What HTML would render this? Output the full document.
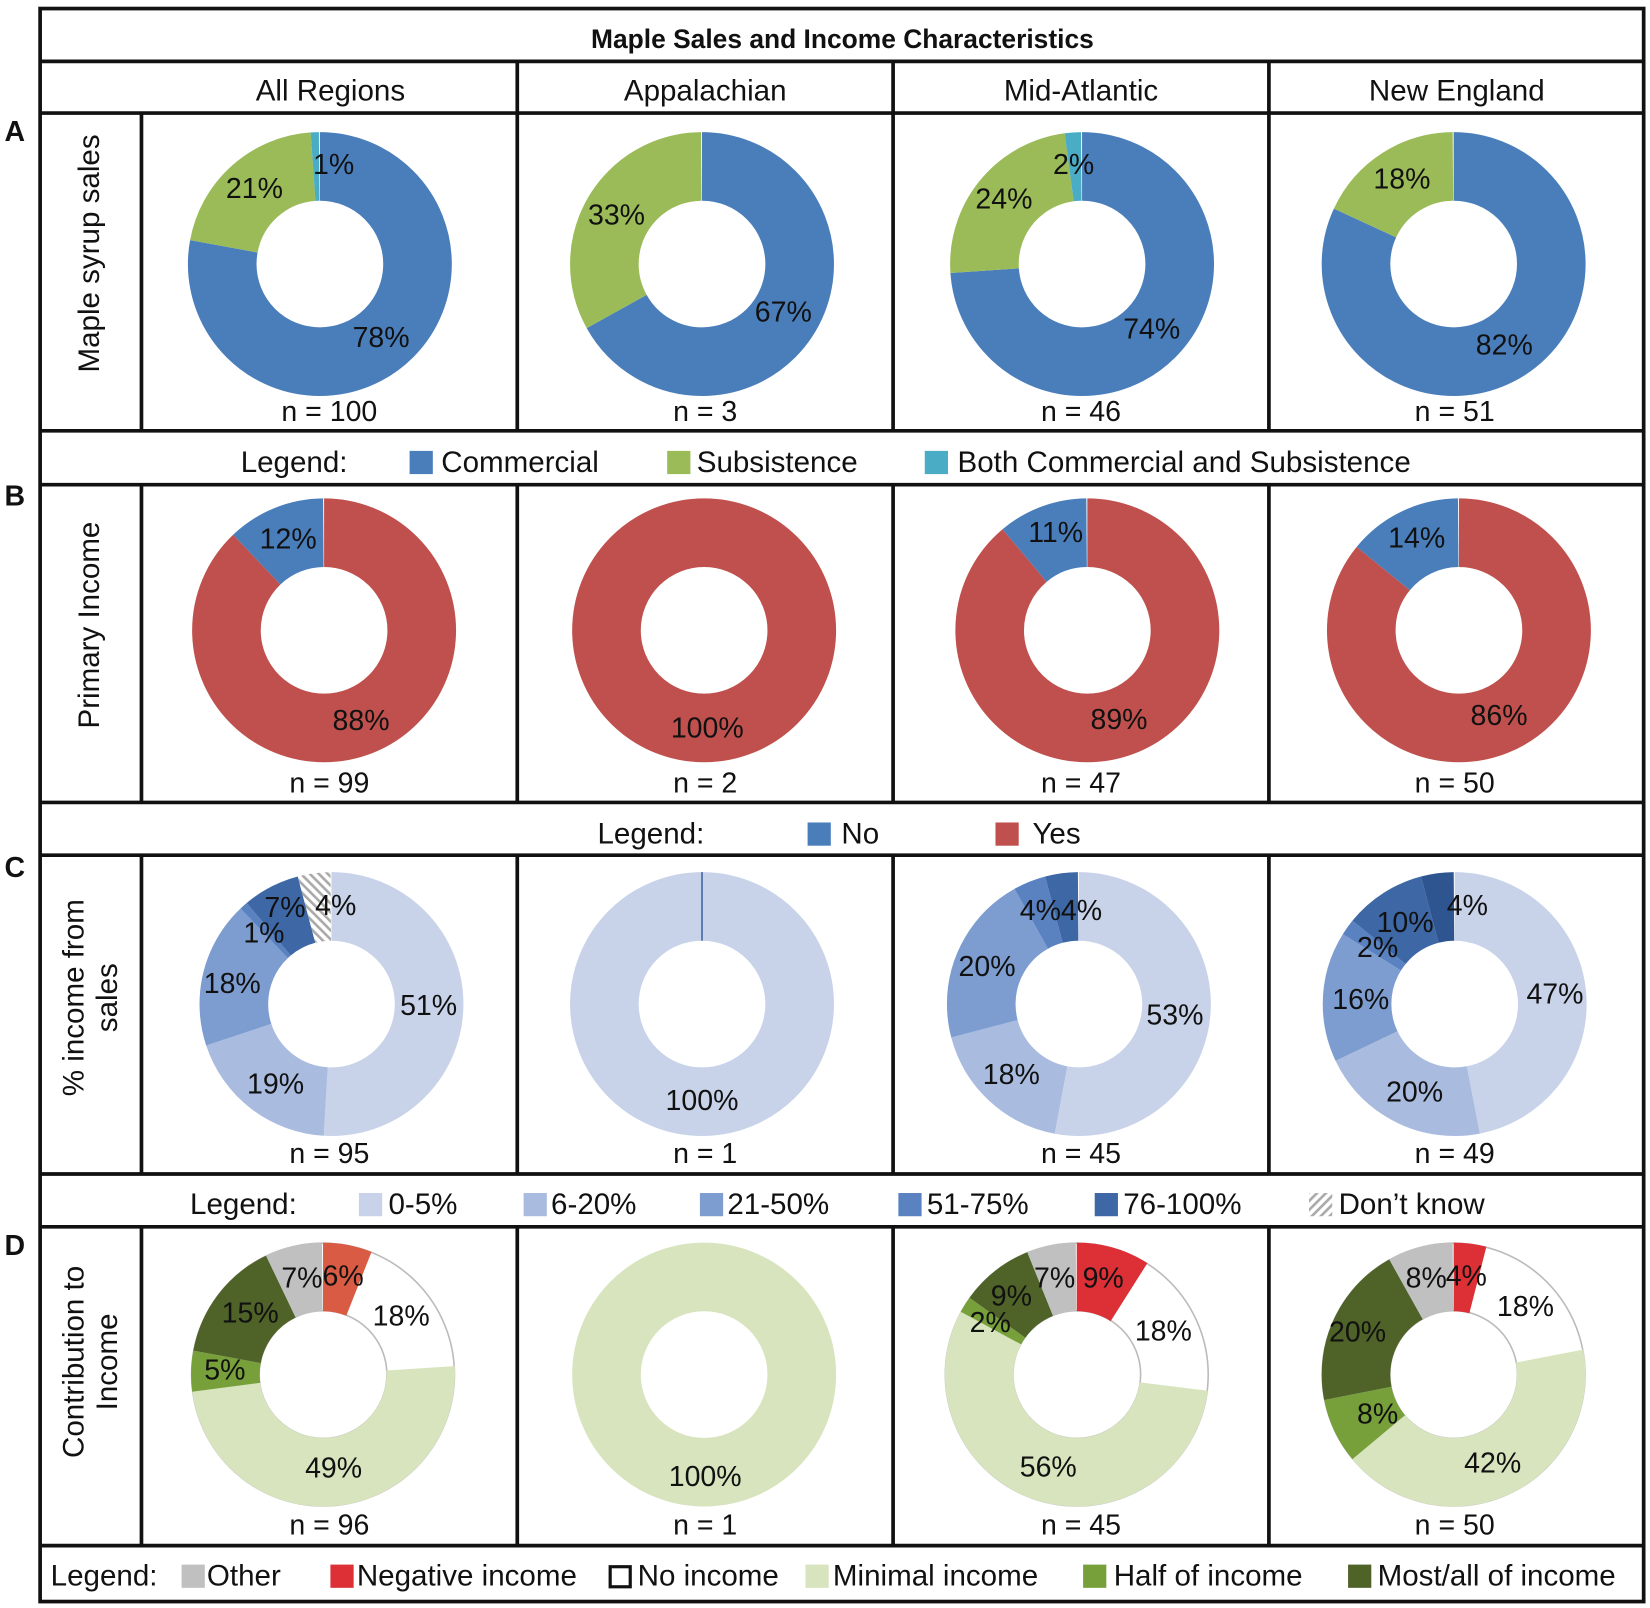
<!DOCTYPE html>
<html><head><meta charset="utf-8"><style>
html,body{margin:0;padding:0;background:#fff;}
svg{display:block;}
text{font-family:"Liberation Sans",Arial,sans-serif;fill:#111;}
.p{font-size:27px;text-anchor:middle;dominant-baseline:central;}
.h{font-size:28px;text-anchor:middle;dominant-baseline:central;}
.l{font-size:28px;dominant-baseline:central;}
</style></head><body>
<svg width="1650" height="1608" viewBox="0 0 1563 1523" xmlns="http://www.w3.org/2000/svg">
<defs>
<pattern id="hatch" width="6" height="6" patternUnits="userSpaceOnUse" patternTransform="rotate(45)">
<rect width="6" height="6" fill="#fff"/><rect width="2.5" height="6" fill="#aaa"/></pattern>
</defs>
<rect width="1563" height="1523" fill="#fff"/>
<!-- grid -->
<g stroke="#111" stroke-width="3.5" fill="none">
<rect x="38" y="8" width="1519" height="1509"/>
<line x1="38" y1="58" x2="1557" y2="58"/>
<line x1="38" y1="107" x2="1557" y2="107"/>
<line x1="38" y1="408" x2="1557" y2="408"/>
<line x1="38" y1="459" x2="1557" y2="459"/>
<line x1="38" y1="760" x2="1557" y2="760"/>
<line x1="38" y1="810" x2="1557" y2="810"/>
<line x1="38" y1="1112" x2="1557" y2="1112"/>
<line x1="38" y1="1162" x2="1557" y2="1162"/>
<line x1="38" y1="1464" x2="1557" y2="1464"/>
<g>
<line x1="490" y1="58" x2="490" y2="408"/><line x1="846" y1="58" x2="846" y2="408"/><line x1="1202" y1="58" x2="1202" y2="408"/>
<line x1="134" y1="107" x2="134" y2="408"/>
<line x1="134" y1="459" x2="134" y2="760"/><line x1="490" y1="459" x2="490" y2="760"/><line x1="846" y1="459" x2="846" y2="760"/><line x1="1202" y1="459" x2="1202" y2="760"/>
<line x1="134" y1="810" x2="134" y2="1112"/><line x1="490" y1="810" x2="490" y2="1112"/><line x1="846" y1="810" x2="846" y2="1112"/><line x1="1202" y1="810" x2="1202" y2="1112"/>
<line x1="134" y1="1162" x2="134" y2="1464"/><line x1="490" y1="1162" x2="490" y2="1464"/><line x1="846" y1="1162" x2="846" y2="1464"/><line x1="1202" y1="1162" x2="1202" y2="1464"/>
</g></g>
<text x="798" y="37" style="font-size:25px;font-weight:bold;text-anchor:middle;dominant-baseline:central">Maple Sales and Income Characteristics</text>
<text class="h" x="313" y="86">All Regions</text>
<text class="h" x="668" y="86">Appalachian</text>
<text class="h" x="1024" y="86">Mid-Atlantic</text>
<text class="h" x="1380" y="86">New England</text>
<g style="font-size:27px;font-weight:bold;text-anchor:middle;dominant-baseline:central">
<text x="14" y="125">A</text><text x="14" y="470">B</text><text x="14" y="822">C</text><text x="14" y="1180">D</text></g>
<text class="h" transform="translate(85 240) rotate(-90)">Maple syrup sales</text>
<text class="h" transform="translate(85 592) rotate(-90)">Primary Income</text>
<text class="h" transform="translate(70 945) rotate(-90)">% income from</text>
<text class="h" transform="translate(102 945) rotate(-90)">sales</text>
<text class="h" transform="translate(70 1290) rotate(-90)">Contribution to</text>
<text class="h" transform="translate(102 1290) rotate(-90)">Income</text>

<!-- donut helper: circle r=92.5, sw=65, pathLength=100 -->
<g fill="none" stroke-width="65">
<!-- A -->
<g transform="rotate(-90 303 250)">
<circle cx="303" cy="250" r="92.5" pathLength="100" stroke="#4a7ebb" stroke-dasharray="78 100"/>
<circle cx="303" cy="250" r="92.5" pathLength="100" stroke="#9bbb59" stroke-dasharray="21 100" stroke-dashoffset="-78"/>
<circle cx="303" cy="250" r="92.5" pathLength="100" stroke="#4bacc6" stroke-dasharray="1 100" stroke-dashoffset="-99"/></g>
<g transform="rotate(-90 665 250)">
<circle cx="665" cy="250" r="92.5" pathLength="100" stroke="#4a7ebb" stroke-dasharray="67 100"/>
<circle cx="665" cy="250" r="92.5" pathLength="100" stroke="#9bbb59" stroke-dasharray="33 100" stroke-dashoffset="-67"/></g>
<g transform="rotate(-90 1025 250)">
<circle cx="1025" cy="250" r="92.5" pathLength="100" stroke="#4a7ebb" stroke-dasharray="74 100"/>
<circle cx="1025" cy="250" r="92.5" pathLength="100" stroke="#9bbb59" stroke-dasharray="24 100" stroke-dashoffset="-74"/>
<circle cx="1025" cy="250" r="92.5" pathLength="100" stroke="#4bacc6" stroke-dasharray="2 100" stroke-dashoffset="-98"/></g>
<g transform="rotate(-90 1377 250)">
<circle cx="1377" cy="250" r="92.5" pathLength="100" stroke="#4a7ebb" stroke-dasharray="82 100"/>
<circle cx="1377" cy="250" r="92.5" pathLength="100" stroke="#9bbb59" stroke-dasharray="18 100" stroke-dashoffset="-82"/></g>
<!-- B -->
<g transform="rotate(-90 307 597)">
<circle cx="307" cy="597" r="92.5" pathLength="100" stroke="#c0504d" stroke-dasharray="88 100"/>
<circle cx="307" cy="597" r="92.5" pathLength="100" stroke="#4a7ebb" stroke-dasharray="12 100" stroke-dashoffset="-88"/></g>
<circle cx="667" cy="597" r="92.5" stroke="#c0504d"/>
<g transform="rotate(-90 1030 597)">
<circle cx="1030" cy="597" r="92.5" pathLength="100" stroke="#c0504d" stroke-dasharray="89 100"/>
<circle cx="1030" cy="597" r="92.5" pathLength="100" stroke="#4a7ebb" stroke-dasharray="11 100" stroke-dashoffset="-89"/></g>
<g transform="rotate(-90 1382 597)">
<circle cx="1382" cy="597" r="92.5" pathLength="100" stroke="#c0504d" stroke-dasharray="86 100"/>
<circle cx="1382" cy="597" r="92.5" pathLength="100" stroke="#4a7ebb" stroke-dasharray="14 100" stroke-dashoffset="-86"/></g>
<!-- C -->
<g transform="rotate(-90 314 951)">
<circle cx="314" cy="951" r="92.5" pathLength="100" stroke="#c8d3e9" stroke-dasharray="51 100"/>
<circle cx="314" cy="951" r="92.5" pathLength="100" stroke="#a9bbdf" stroke-dasharray="19 100" stroke-dashoffset="-51"/>
<circle cx="314" cy="951" r="92.5" pathLength="100" stroke="#7d9dd0" stroke-dasharray="18 100" stroke-dashoffset="-70"/>
<circle cx="314" cy="951" r="92.5" pathLength="100" stroke="#5a82c0" stroke-dasharray="1 100" stroke-dashoffset="-88"/>
<circle cx="314" cy="951" r="92.5" pathLength="100" stroke="#3e67a6" stroke-dasharray="7 100" stroke-dashoffset="-89"/>
<circle cx="314" cy="951" r="92.5" pathLength="100" stroke="url(#hatch)" stroke-dasharray="4 100" stroke-dashoffset="-96"/></g>
<circle cx="665" cy="951" r="92.5" stroke="#c8d3e9"/>
<line x1="665" y1="826" x2="665" y2="891" stroke="#3e67a6" stroke-width="1.5"/>
<g transform="rotate(-90 1022 951)">
<circle cx="1022" cy="951" r="92.5" pathLength="100" stroke="#c8d3e9" stroke-dasharray="53 100"/>
<circle cx="1022" cy="951" r="92.5" pathLength="100" stroke="#a9bbdf" stroke-dasharray="18 100" stroke-dashoffset="-53"/>
<circle cx="1022" cy="951" r="92.5" pathLength="100" stroke="#7d9dd0" stroke-dasharray="21 100" stroke-dashoffset="-71"/>
<circle cx="1022" cy="951" r="92.5" pathLength="100" stroke="#5a82c0" stroke-dasharray="4 100" stroke-dashoffset="-92"/>
<circle cx="1022" cy="951" r="92.5" pathLength="100" stroke="#3e67a6" stroke-dasharray="4 100" stroke-dashoffset="-96"/></g>
<g transform="rotate(-90 1378 951)">
<circle cx="1378" cy="951" r="92.5" pathLength="100" stroke="#c8d3e9" stroke-dasharray="47 100"/>
<circle cx="1378" cy="951" r="92.5" pathLength="100" stroke="#a9bbdf" stroke-dasharray="21 100" stroke-dashoffset="-47"/>
<circle cx="1378" cy="951" r="92.5" pathLength="100" stroke="#7d9dd0" stroke-dasharray="16 100" stroke-dashoffset="-68"/>
<circle cx="1378" cy="951" r="92.5" pathLength="100" stroke="#5a82c0" stroke-dasharray="2 100" stroke-dashoffset="-84"/>
<circle cx="1378" cy="951" r="92.5" pathLength="100" stroke="#3e67a6" stroke-dasharray="10 100" stroke-dashoffset="-86"/>
<circle cx="1378" cy="951" r="92.5" pathLength="100" stroke="#2f5590" stroke-dasharray="4 100" stroke-dashoffset="-96"/></g>
<!-- D -->
<g transform="rotate(-90 306 1302)">
<circle cx="306" cy="1302" r="124.5" stroke="#bbb" stroke-width="1.5"/>
<circle cx="306" cy="1302" r="60.5" stroke="#bbb" stroke-width="1.5"/>
<circle cx="306" cy="1302" r="92.5" pathLength="100" stroke="#d95b43" stroke-dasharray="6 100"/>
<circle cx="306" cy="1302" r="92.5" pathLength="100" stroke="#d7e4bd" stroke-dasharray="49 100" stroke-dashoffset="-24"/>
<circle cx="306" cy="1302" r="92.5" pathLength="100" stroke="#77a03a" stroke-dasharray="5 100" stroke-dashoffset="-73"/>
<circle cx="306" cy="1302" r="92.5" pathLength="100" stroke="#4f6228" stroke-dasharray="15 100" stroke-dashoffset="-78"/>
<circle cx="306" cy="1302" r="92.5" pathLength="100" stroke="#c0c0c0" stroke-dasharray="7 100" stroke-dashoffset="-93"/></g>
<circle cx="667" cy="1302" r="92.5" stroke="#d7e4bd"/>
<g transform="rotate(-90 1020 1302)">
<circle cx="1020" cy="1302" r="124.5" stroke="#bbb" stroke-width="1.5"/>
<circle cx="1020" cy="1302" r="60.5" stroke="#bbb" stroke-width="1.5"/>
<circle cx="1020" cy="1302" r="92.5" pathLength="100" stroke="#dc2f36" stroke-dasharray="9 100"/>
<circle cx="1020" cy="1302" r="92.5" pathLength="100" stroke="#d7e4bd" stroke-dasharray="56 100" stroke-dashoffset="-27"/>
<circle cx="1020" cy="1302" r="92.5" pathLength="100" stroke="#77a03a" stroke-dasharray="2 100" stroke-dashoffset="-83"/>
<circle cx="1020" cy="1302" r="92.5" pathLength="100" stroke="#4f6228" stroke-dasharray="9 100" stroke-dashoffset="-85"/>
<circle cx="1020" cy="1302" r="92.5" pathLength="100" stroke="#c0c0c0" stroke-dasharray="6 100" stroke-dashoffset="-94"/></g>
<g transform="rotate(-90 1377 1302)">
<circle cx="1377" cy="1302" r="124.5" stroke="#bbb" stroke-width="1.5"/>
<circle cx="1377" cy="1302" r="60.5" stroke="#bbb" stroke-width="1.5"/>
<circle cx="1377" cy="1302" r="92.5" pathLength="100" stroke="#dc2f36" stroke-dasharray="4 100"/>
<circle cx="1377" cy="1302" r="92.5" pathLength="100" stroke="#d7e4bd" stroke-dasharray="42 100" stroke-dashoffset="-22"/>
<circle cx="1377" cy="1302" r="92.5" pathLength="100" stroke="#77a03a" stroke-dasharray="8 100" stroke-dashoffset="-64"/>
<circle cx="1377" cy="1302" r="92.5" pathLength="100" stroke="#4f6228" stroke-dasharray="20 100" stroke-dashoffset="-72"/>
<circle cx="1377" cy="1302" r="92.5" pathLength="100" stroke="#c0c0c0" stroke-dasharray="8 100" stroke-dashoffset="-92"/></g>
</g>

<!-- labels -->
<g class="p">
<text class="p" x="241" y="179">21%</text><text class="p" x="316" y="156">1%</text><text class="p" x="361" y="320">78%</text>
<text class="p" x="584" y="204">33%</text><text class="p" x="742" y="296">67%</text>
<text class="p" x="1017" y="156">2%</text><text class="p" x="951" y="189">24%</text><text class="p" x="1091" y="312">74%</text>
<text class="p" x="1328" y="170">18%</text><text class="p" x="1425" y="327">82%</text>
<text class="p" x="273" y="511">12%</text><text class="p" x="342" y="683">88%</text>
<text class="p" x="670" y="690">100%</text>
<text class="p" x="1000" y="505">11%</text><text class="p" x="1060" y="682">89%</text>
<text class="p" x="1342" y="510">14%</text><text class="p" x="1420" y="678">86%</text>
<text class="p" x="318" y="858">4%</text><text class="p" x="270" y="860">7%</text><text class="p" x="250" y="884">1%</text>
<text class="p" x="220" y="932">18%</text><text class="p" x="261" y="1027">19%</text><text class="p" x="406" y="953">51%</text>
<text class="p" x="665" y="1043">100%</text>
<text class="p" x="1005" y="863">4%4%</text><text class="p" x="935" y="916">20%</text><text class="p" x="958" y="1018">18%</text><text class="p" x="1113" y="962">53%</text>
<text class="p" x="1390" y="858">4%</text><text class="p" x="1331" y="874">10%</text><text class="p" x="1305" y="898">2%</text>
<text class="p" x="1289" y="947">16%</text><text class="p" x="1340" y="1035">20%</text><text class="p" x="1473" y="942">47%</text>
<text class="p" x="286" y="1211">7%</text><text class="p" x="325" y="1209">6%</text><text class="p" x="380" y="1247">18%</text>
<text class="p" x="237" y="1244">15%</text><text class="p" x="213" y="1298">5%</text><text class="p" x="316" y="1391">49%</text>
<text class="p" x="668" y="1399">100%</text>
<text class="p" x="999" y="1211">7%</text><text class="p" x="1045" y="1211">9%</text><text class="p" x="1102" y="1261">18%</text>
<text class="p" x="958" y="1228">9%</text><text class="p" x="938" y="1253">2%</text><text class="p" x="993" y="1390">56%</text>
<text class="p" x="1351" y="1211">8%</text><text class="p" x="1389" y="1209">4%</text><text class="p" x="1445" y="1238">18%</text>
<text class="p" x="1286" y="1262">20%</text><text class="p" x="1305" y="1340">8%</text><text class="p" x="1414" y="1386">42%</text>
<!-- n -->
<text class="p" x="312" y="390">n = 100</text><text class="p" x="668" y="390">n = 3</text><text class="p" x="1024" y="390">n = 46</text><text class="p" x="1378" y="390">n = 51</text>
<text class="p" x="312" y="742">n = 99</text><text class="p" x="668" y="742">n = 2</text><text class="p" x="1024" y="742">n = 47</text><text class="p" x="1378" y="742">n = 50</text>
<text class="p" x="312" y="1093">n = 95</text><text class="p" x="668" y="1093">n = 1</text><text class="p" x="1024" y="1093">n = 45</text><text class="p" x="1378" y="1093">n = 49</text>
<text class="p" x="312" y="1445">n = 96</text><text class="p" x="668" y="1445">n = 1</text><text class="p" x="1024" y="1445">n = 45</text><text class="p" x="1378" y="1445">n = 50</text>
</g>

<!-- legends -->
<text class="l" x="228" y="438">Legend:</text>
<rect x="388" y="427" width="22" height="22" fill="#4a7ebb"/><text class="l" x="418" y="438">Commercial</text>
<rect x="632" y="427" width="22" height="22" fill="#9bbb59"/><text class="l" x="660" y="438">Subsistence</text>
<rect x="876" y="427" width="22" height="22" fill="#4bacc6"/><text class="l" x="907" y="438">Both Commercial and Subsistence</text>

<text class="l" x="566" y="790">Legend:</text>
<rect x="765" y="779" width="22" height="22" fill="#4a7ebb"/><text class="l" x="797" y="790">No</text>
<rect x="943" y="779" width="22" height="22" fill="#c0504d"/><text class="l" x="978" y="790">Yes</text>

<text class="l" x="180" y="1141">Legend:</text>
<rect x="340" y="1130" width="22" height="22" fill="#c8d3e9"/><text class="l" x="368" y="1141">0-5%</text>
<rect x="496" y="1130" width="22" height="22" fill="#a9bbdf"/><text class="l" x="522" y="1141">6-20%</text>
<rect x="663" y="1130" width="22" height="22" fill="#7d9dd0"/><text class="l" x="689" y="1141">21-50%</text>
<rect x="851" y="1130" width="22" height="22" fill="#5a82c0"/><text class="l" x="878" y="1141">51-75%</text>
<rect x="1037" y="1130" width="22" height="22" fill="#3e67a6"/><text class="l" x="1064" y="1141">76-100%</text>
<rect x="1240" y="1130" width="22" height="22" fill="url(#hatch)"/><text class="l" x="1268" y="1141">Don’t know</text>

<text class="l" x="48" y="1493">Legend:</text>
<rect x="172" y="1482" width="22" height="22" fill="#c0c0c0"/><text class="l" x="196" y="1493">Other</text>
<rect x="313" y="1482" width="22" height="22" fill="#dc2f36"/><text class="l" x="338" y="1493">Negative income</text>
<rect x="578" y="1484" width="19" height="19" fill="#fff" stroke="#111" stroke-width="3"/><text class="l" x="604" y="1493">No income</text>
<rect x="763" y="1482" width="22" height="22" fill="#d7e4bd"/><text class="l" x="789" y="1493">Minimal income</text>
<rect x="1026" y="1482" width="22" height="22" fill="#77a03a"/><text class="l" x="1055" y="1493">Half of income</text>
<rect x="1277" y="1482" width="22" height="22" fill="#4f6228"/><text class="l" x="1305" y="1493">Most/all of income</text>
</svg>
</body></html>
